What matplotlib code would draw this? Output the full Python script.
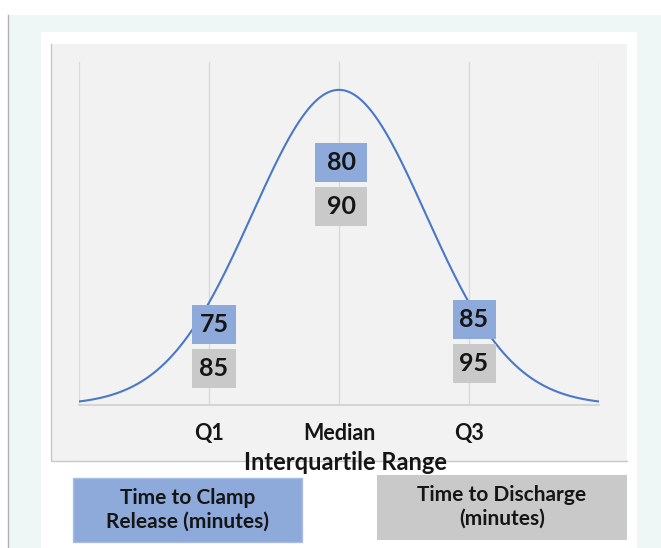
import matplotlib
matplotlib.use('Agg')
import matplotlib.pyplot as plt
from matplotlib.patches import Rectangle
import numpy as np

# chart content
tick_pos = [-1.5, 0.0, 1.5]
tick_labels = ['Q1', 'Median', 'Q3']
clamp_values = [75, 80, 85]       # time to clamp release (blue)
discharge_values = [85, 90, 95]   # time to discharge (grey)
grid_pos = [-3.0, -1.5, 0.0, 1.5, 3.0]
xlabel = 'Interquartile Range'
legend_labels = ['Time to Clamp\nRelease (minutes)', 'Time to Discharge\n(minutes)']

# bell curve (standard normal, drawn over +-3 sd)
mu, sd = 0.0, 1.0
xs = np.linspace(-3, 3, 400)
ys = np.exp(-0.5 * ((xs - mu) / sd) ** 2) / (sd * np.sqrt(2 * np.pi))

BLUE = '#8eaadb'
GREY = '#c9c9c9'
LINE = '#4a78c8'
PANEL = '#f2f2f2'
BG = '#eef6f6'
TXT = '#151515'

W, H = 661, 548
fig = plt.figure(figsize=(W / 100, H / 100), dpi=100)
fig.patch.set_facecolor('white')
plt.rcParams['font.family'] = ['Lato', 'DejaVu Sans']


def px(x, y):
    # pixel (top-left origin) -> figure fraction
    return x / W, 1 - y / H


def rect(x0, y0, x1, y1, **kw):
    fx, fy = px(x0, y1)
    r = Rectangle((fx, fy), (x1 - x0) / W, (y1 - y0) / H,
                  transform=fig.transFigure, **kw)
    fig.add_artist(r)
    return r


# backgrounds
rect(8, 15, W, H, facecolor=BG, edgecolor='none', zorder=0)
fig.add_artist(plt.Line2D([8 / W, 8 / W], [0, 1 - 15 / H], color='#b0b0b0',
                          lw=1, transform=fig.transFigure, zorder=1))
rect(41, 32, 637, H, facecolor='white', edgecolor='none', zorder=0.5)
rect(51, 44, 627, 461, facecolor=PANEL, edgecolor='none', zorder=0.6)
fig.add_artist(plt.Line2D([51 / W, 51 / W, 627 / W], [1 - 44 / H, 1 - 461 / H, 1 - 461 / H],
                          color='#c8c8c8', lw=1, transform=fig.transFigure, zorder=0.7))

# plot axes
l, b = px(79, 405)
r_, t = px(599, 62)
ax = fig.add_axes([l, b, r_ - l, t - b])
ax.set_zorder(2)
ax.set_facecolor('none')
ax.set_xlim(-3, 3)
ax.set_ylim(0, 0.4342)
for s in ['top', 'left', 'right']:
    ax.spines[s].set_visible(False)
ax.spines['bottom'].set_color('#d0d0d0')
ax.spines['bottom'].set_linewidth(1.2)
for g in grid_pos:
    ax.axvline(g, color='#d9d9d9', lw=1, zorder=1)
ax.plot(xs, ys, color=LINE, lw=1.5, zorder=2)
ax.set_yticks([])
ax.set_xticks(tick_pos)
ax.set_xticklabels(tick_labels, fontsize=15.5, fontweight='bold', color=TXT)
ax.tick_params(axis='x', length=0, pad=13)

# value boxes (pixel layout: centre x, top of blue box, width)
box_layout = [(214, 305, 44), (341, 143, 52), (474, 300, 43)]
bh, gap = 39, 5
for (cx, top, bw), cv, dv in zip(box_layout, clamp_values, discharge_values):
    rect(cx - bw / 2, top, cx + bw / 2, top + bh, facecolor=BLUE, edgecolor='none', zorder=3)
    rect(cx - bw / 2, top + bh + gap, cx + bw / 2, top + 2 * bh + gap,
         facecolor=GREY, edgecolor='none', zorder=3)
    fig.text(*px(cx, top + bh / 2), str(cv), ha='center', va='center',
             fontsize=18, fontweight='bold', color=TXT, zorder=4)
    fig.text(*px(cx, top + bh * 1.5 + gap), str(dv), ha='center', va='center',
             fontsize=18, fontweight='bold', color=TXT, zorder=4)

# axis title
fig.text(*px(346, 462), xlabel, ha='center', va='center', fontsize=17,
         fontweight='bold', color=TXT, zorder=5)

# legend boxes
rect(73, 478, 302, 542, facecolor=BLUE, edgecolor='#a9bde3', lw=1, zorder=3)
rect(377, 475, 627, 540, facecolor=GREY, edgecolor='none', zorder=3)
fig.text(*px(188, 510), legend_labels[0], ha='center', va='center', fontsize=15,
         fontweight='bold', color=TXT, linespacing=1.25, zorder=4)
fig.text(*px(502, 507), legend_labels[1], ha='center', va='center', fontsize=15,
         fontweight='bold', color=TXT, linespacing=1.25, zorder=4)

fig.savefig('out.png', dpi=100)
